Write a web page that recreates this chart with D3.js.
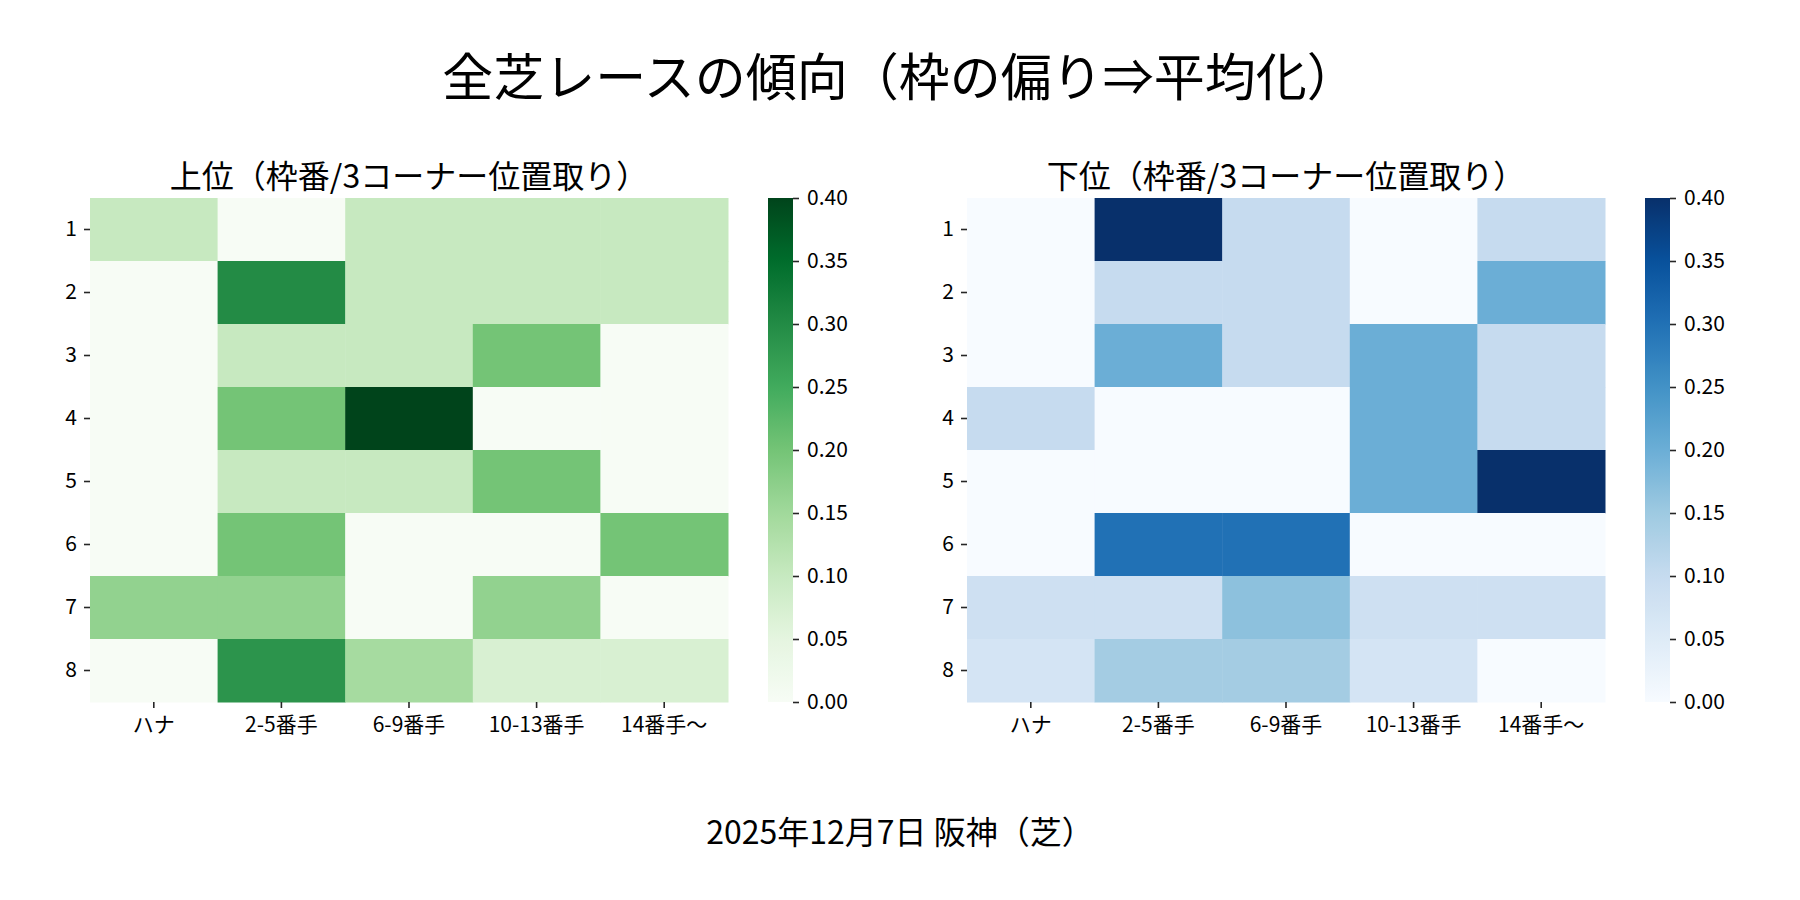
<!DOCTYPE html>
<html>
<head>
<meta charset="utf-8">
<script src="https://cdn.jsdelivr.net/npm/d3@7"></script>
<style>
  body { margin: 0; background: #fff; }
  svg text { font-family: "Noto Sans CJK JP", "Noto Sans", sans-serif; }
</style>
</head>
<body>
<script>
// 枠番 (rows) and 3コーナー位置取り (columns)
var frames = ["1", "2", "3", "4", "5", "6", "7", "8"];
var positions = ["ハナ", "2-5番手", "6-9番手", "10-13番手", "14番手〜"];

// 上位 share per cell
var topValues = [
  [0.1, 0, 0.1, 0.1, 0.1],
  [0, 0.3, 0.1, 0.1, 0.1],
  [0, 0.1, 0.1, 0.2, 0],
  [0, 0.2, 0.4, 0, 0],
  [0, 0.1, 0.1, 0.2, 0],
  [0, 0.2, 0, 0, 0.2],
  [1 / 6, 1 / 6, 0, 1 / 6, 0],
  [0, 4 / 14, 2 / 14, 1 / 14, 1 / 14]
];

// 下位 share per cell
var bottomValues = [
  [0, 0.4, 0.1, 0, 0.1],
  [0, 0.1, 0.1, 0, 0.2],
  [0, 0.2, 0.1, 0.2, 0.1],
  [0.1, 0, 0, 0.2, 0.1],
  [0, 0, 0, 0.2, 0.4],
  [0, 0.3, 0.3, 0, 0],
  [1 / 12, 1 / 12, 1 / 6, 1 / 12, 1 / 12],
  [1 / 14, 1 / 7, 1 / 7, 1 / 14, 0]
];

var colorbarTicks = [0, 0.05, 0.1, 0.15, 0.2, 0.25, 0.3, 0.35, 0.4];

// matplotlib style colormaps (ColorBrewer 9 class, linear segments)
var greens = ["#f7fcf5", "#e5f5e0", "#c7e9c0", "#a1d99b", "#74c476", "#41ab5d", "#238b45", "#006d2c", "#00441b"];
var blues = ["#f7fbff", "#deebf7", "#c6dbef", "#9ecae1", "#6baed6", "#4292c6", "#2171b5", "#08519c", "#08306b"];

var width = 1800, height = 900;
var vmin = 0, vmax = 0.4;

var svg = d3.select("body")
  .append("svg")
  .attr("width", width)
  .attr("height", height);

svg.append("text")
  .attr("x", 900)
  .attr("y", 74)
  .attr("text-anchor", "middle")
  .attr("dominant-baseline", "central")
  .attr("font-size", 51)
  .text("全芝レースの傾向（枠の偏り⇒平均化）");

svg.append("text")
  .attr("x", 900)
  .attr("y", 830)
  .attr("text-anchor", "middle")
  .attr("dominant-baseline", "central")
  .attr("font-size", 32)
  .text("2025年12月7日 阪神（芝）");

function drawHeatmap(id, left, values, colors, title) {
  var top = 198, w = 638, h = 504;
  var g = svg.append("g").attr("id", id).attr("transform", "translate(" + left + "," + top + ")");

  var x = d3.scaleBand().domain(positions).range([0, w]);
  var y = d3.scaleBand().domain(frames).range([0, h]);
  var color = d3.scaleLinear()
    .domain(d3.range(colors.length).map(function (i) { return vmin + (vmax - vmin) * i / (colors.length - 1); }))
    .range(colors)
    .interpolate(d3.interpolateRgb)
    .clamp(true);

  var cells = [];
  values.forEach(function (row, r) {
    row.forEach(function (v, c) {
      cells.push({ frame: frames[r], pos: positions[c], value: v });
    });
  });

  g.selectAll("rect.cell")
    .data(cells)
    .enter().append("rect")
    .attr("class", "cell")
    .attr("x", function (d) { return x(d.pos); })
    .attr("y", function (d) { return y(d.frame); })
    .attr("width", x.bandwidth() + 0.5)
    .attr("height", y.bandwidth() + 0.5)
    .attr("fill", function (d) { return color(d.value); });

  g.append("text")
    .attr("x", w / 2)
    .attr("y", -24)
    .attr("text-anchor", "middle")
    .attr("dominant-baseline", "central")
    .attr("font-size", 32)
    .text(title);

  var xAxis = g.append("g")
    .attr("transform", "translate(0," + h + ")")
    .call(d3.axisBottom(x).tickSize(6).tickPadding(6).tickSizeOuter(0));
  var yAxis = g.append("g")
    .call(d3.axisLeft(y).tickSize(6).tickPadding(7).tickSizeOuter(0));
  [xAxis, yAxis].forEach(function (a) {
    a.select(".domain").remove();
    a.selectAll(".tick line").attr("stroke", "#262626").attr("stroke-width", 1.6);
    a.selectAll(".tick text").attr("font-size", 21).attr("fill", "#000");
  });
  xAxis.selectAll(".tick text").attr("dy", "0.85em");

  // colorbar
  var cbX = w + 40, cbW = 25;
  var cbScale = d3.scaleLinear().domain([vmin, vmax]).range([h, 0]);
  var gradId = id + "-grad";
  var grad = svg.append("defs").append("linearGradient")
    .attr("id", gradId)
    .attr("x1", 0).attr("y1", 1).attr("x2", 0).attr("y2", 0);
  d3.range(0, 1.0001, 0.02).forEach(function (t) {
    grad.append("stop")
      .attr("offset", t)
      .attr("stop-color", color(vmin + t * (vmax - vmin)));
  });
  g.append("rect")
    .attr("x", cbX)
    .attr("y", 0)
    .attr("width", cbW)
    .attr("height", h)
    .attr("fill", "url(#" + gradId + ")");
  var cbAxis = g.append("g")
    .attr("transform", "translate(" + (cbX + cbW) + ",0)")
    .call(d3.axisRight(cbScale).tickValues(colorbarTicks).tickFormat(d3.format(".2f")).tickSize(6).tickPadding(8).tickSizeOuter(0));
  cbAxis.select(".domain").remove();
  cbAxis.selectAll(".tick line").attr("stroke", "#262626").attr("stroke-width", 1.6);
  cbAxis.selectAll(".tick text").attr("font-size", 21).attr("fill", "#000");
}

drawHeatmap("upper", 90, topValues, greens, "上位（枠番/3コーナー位置取り）");
drawHeatmap("lower", 967, bottomValues, blues, "下位（枠番/3コーナー位置取り）");
</script>
</body>
</html>
